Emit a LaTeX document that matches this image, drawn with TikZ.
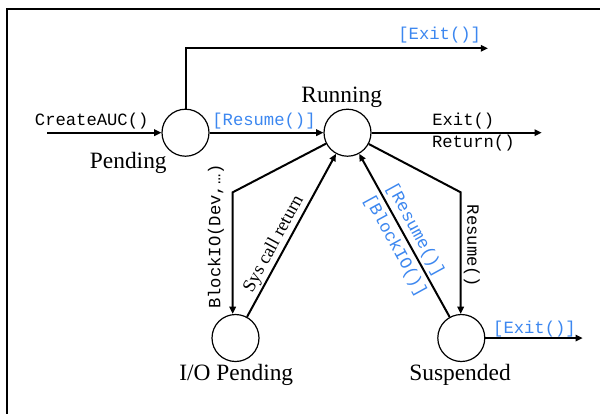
\documentclass[tikz,border=0pt]{standalone}
\usepackage{fontspec}
\setmainfont{Liberation Serif}
\newfontfamily\cour{Liberation Mono}
\usetikzlibrary{arrows.meta}
\definecolor{lblue}{RGB}{60,135,240}
\begin{document}
\begin{tikzpicture}[x=0.5pt,y=-0.5pt,
 stcircle/.style={circle,draw,line width=0.6pt,minimum size=23.5pt,inner sep=0pt},
 conn/.style={line width=1pt,-{Triangle[length=3.6pt,width=3.2pt]}},
 codelbl/.style={font=\cour\fontsize{8.6}{10}\selectfont,inner sep=0pt},
 bcodelbl/.style={codelbl,text=lblue},
 stlabel/.style={font=\fontsize{11.7}{14}\selectfont,inner sep=0pt},
]
\useasboundingbox (0,0) rectangle (600,414);
\fill[white] (0,0) rectangle (600,414);
\draw[line width=1pt] (600,9.2) -- (6.7,9.2) -- (6.7,414);

\node[stcircle] (P) at (185.5,132.7) {};
\node[stcircle] (R) at (347.5,132.7) {};
\node[stcircle] (IO) at (235.5,338) {};
\node[stcircle] (S) at (461.3,338) {};

\coordinate (in) at (47,132.7);
\coordinate (ex1) at (488,48.3);
\coordinate (ex2) at (541.7,132.7);
\coordinate (ex3) at (582.7,338);
\coordinate (c1) at (232.7,192.3);
\coordinate (c2) at (460.7,192.3);

\draw[conn] (in) -- (P);
\draw[conn] (P.north) |- (ex1);
\draw[conn] (P) -- (R);
\draw[conn] (R) -- (ex2);
\draw[conn] (R.207.4) -- (c1) -- (c1 |- IO.north);
\draw[conn] (IO) -- (R);
\draw[conn] (S) -- (R);
\draw[conn] (R.-28.5) -- (c2) -- (c2 |- S.north);
\draw[conn] (S) -- (ex3);

\node[codelbl,anchor=base] (lcreate) at (91.7,125) {CreateAUC()};
\node[bcodelbl,anchor=base] (lres) at (264,125) {[Resume()]};
\node[bcodelbl,anchor=base] (lex1) at (439.7,39.5) {[Exit()]};
\node[codelbl,anchor=base] (lexit) at (463.3,125) {Exit()};
\node[codelbl,anchor=base] (lret) at (473.3,147.7) {Return()};
\node[bcodelbl,anchor=base] (lex3) at (534.5,333) {[Exit()]};
\node[codelbl,rotate=90] (lblk) at (216,236.5) {BlockIO(Dev,…)};
\node[codelbl,rotate=-90] (lres2) at (471.7,246) {Resume()};
\node[font=\fontsize{9.25}{11}\selectfont,inner sep=0pt,rotate=61.4] (lsys) at (274,244) {Sys call return};
\node[bcodelbl,rotate=-61.3] (lbres) at (415,230) {[Resume()]};
\node[bcodelbl,rotate=-61.3] (lbblk) at (395,246) {[BlockIO()]};

\node[stlabel,anchor=base] (nP) at (128.3,168.5) {Pending};
\node[stlabel,anchor=base] (nR) at (341.7,102) {Running};
\node[stlabel,anchor=base] (nIO) at (236.3,380) {I/O Pending};
\node[stlabel,anchor=base] (nS) at (460,380) {Suspended};
\end{tikzpicture}
\end{document}
